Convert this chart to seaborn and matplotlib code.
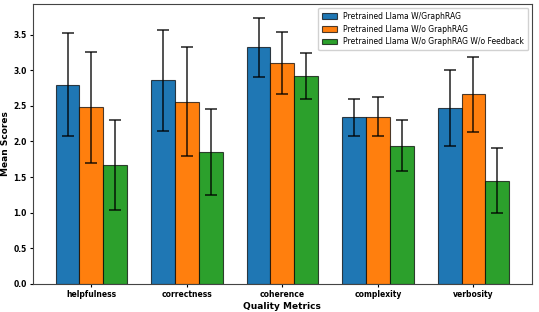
import matplotlib
matplotlib.use('Agg')
import matplotlib.pyplot as plt
import numpy as np
import pandas as pd
import seaborn as sns

# 数据
metrics = ['helpfulness', 'correctness', 'coherence', 'complexity', 'verbosity']
models = ['Pretrained Llama W/GraphRAG',
          'Pretrained Llama W/o GraphRAG',
          'Pretrained Llama W/o GraphRAG W/o Feedback']
means_w_graphrag = [2.80, 2.86, 3.32, 2.34, 2.47]
means_wo_graphrag = [2.48, 2.56, 3.10, 2.35, 2.66]
means_wo_feedback = [1.67, 1.85, 2.92, 1.94, 1.45]
std_w_graphrag = [0.72, 0.71, 0.41, 0.26, 0.53]
std_wo_graphrag = [0.78, 0.77, 0.44, 0.27, 0.53]
std_wo_feedback = [0.635, 0.60, 0.32, 0.355, 0.455]

all_means = [means_w_graphrag, means_wo_graphrag, means_wo_feedback]
all_stds = [std_w_graphrag, std_wo_graphrag, std_wo_feedback]

rows = []
for m, mv, sv in zip(models, all_means, all_stds):
    for metric, v, s in zip(metrics, mv, sv):
        rows.append({'metric': metric, 'model': m, 'score': v, 'std': s})
df = pd.DataFrame(rows)

plt.rcParams['font.family'] = ['DejaVu Sans']
fig, ax = plt.subplots(figsize=(5.39, 3.12), dpi=100)
fig.subplots_adjust(left=0.061, right=0.987, top=0.987, bottom=0.09)

palette = ['#1f77b4', '#ff7f0e', '#2ca02c']
sns.barplot(data=df, x='metric', y='score', hue='model', palette=palette,
            width=0.75, edgecolor=(0, 0, 0, 0.7), linewidth=0.8,
            errorbar=None, saturation=1, ax=ax)

# 误差线
for container, sv in zip(ax.containers, all_stds):
    for bar, s in zip(container, sv):
        xc = bar.get_x() + bar.get_width() / 2
        ax.errorbar(xc, bar.get_height(), yerr=s, color='black', alpha=0.8,
                    elinewidth=1.2, capsize=4.2, capthick=1.2)

ax.set_xlim(-0.6125, 4.6125)
ax.set_ylim(0, 3.93)
ax.set_yticks(np.arange(0, 3.51, 0.5))
ax.set_xlabel('Quality Metrics', fontsize=6.5, fontweight='bold', labelpad=2)
ax.set_ylabel('Mean Scores', fontsize=6.5, fontweight='bold', labelpad=2)
for lab in ax.get_xticklabels() + ax.get_yticklabels():
    lab.set_fontweight('bold')
ax.tick_params(labelsize=5.5, length=2.5, pad=2)
for sp in ax.spines.values():
    sp.set_color('#444444')

ax.legend(loc='upper right', fontsize=5.5, title=None, framealpha=0.9,
          borderpad=0.5)

plt.savefig('out.png', dpi=100)
